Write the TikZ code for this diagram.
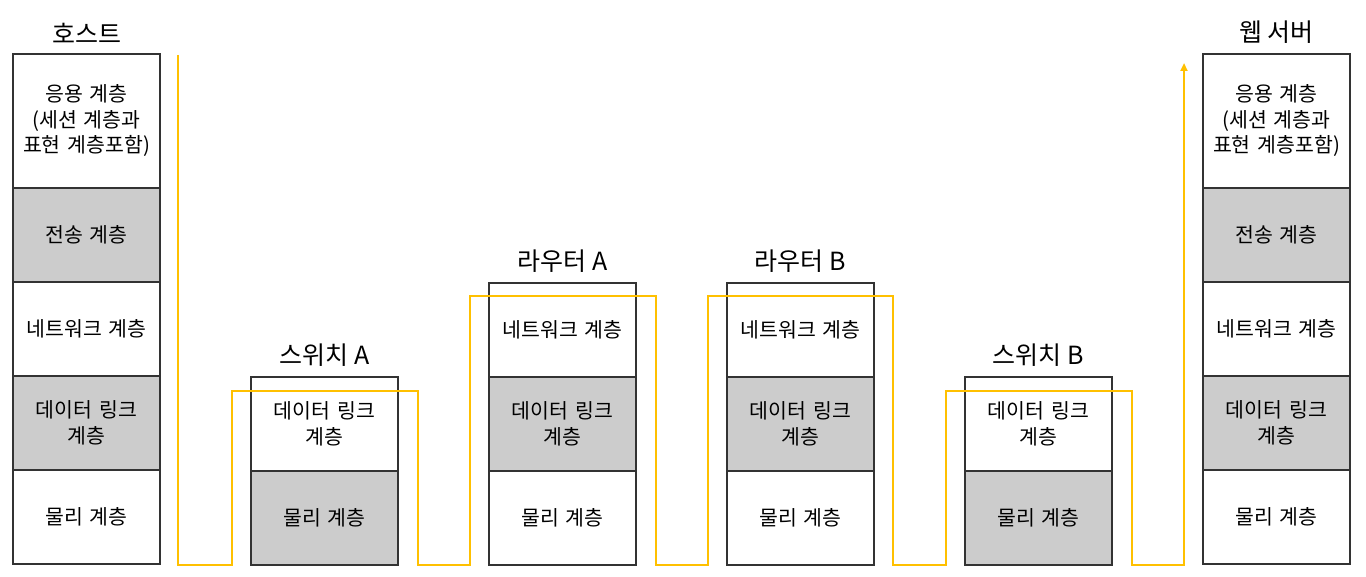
\documentclass[tikz,border=0pt]{standalone}
\usepackage{fontspec}
\setmainfont{Noto Sans CJK KR}
\usepackage{xcolor}
\usetikzlibrary{arrows.meta,positioning}

\definecolor{layergray}{HTML}{CCCCCC}
\definecolor{routeyellow}{HTML}{FFC000}

\tikzset{
  layer/.style={draw=black!80, line width=1.3pt, minimum width=147pt,
    minimum height=94pt, inner sep=0pt, outer sep=0pt, align=center, text width=145pt,
    font=\fontsize{20.5}{25.5}\selectfont},
  shaded/.style={layer, fill=layergray},
  title/.style={inner sep=0pt, font=\fontsize{25}{28}\selectfont},
  route/.style={routeyellow, line width=2pt, line join=miter},
}

\begin{document}
\begin{tikzpicture}[x=1pt,y=-1pt]
    \useasboundingbox (0,0) rectangle (1366,577);

    % host
    \node[layer, minimum height=134pt, anchor=north] (hostapp) at (86.5,54) {응용 계층\\(세션 계층과\\표현 계층포함)};
    \node[shaded, below=0pt of hostapp] (hosttp) {전송 계층};
    \node[layer, below=0pt of hosttp] (hostnet) {네트워크 계층};
    \node[shaded, below=0pt of hostnet] (hostdl) {데이터 링크\\계층};
    \node[layer, below=0pt of hostdl] (hostphy) {물리 계층};
    \node[title, above=10pt of hostapp] (hosttitle) {호스트};

    % switch A
    \node[layer, anchor=north] (swAdl) at (324.5,377) {데이터 링크\\계층};
    \node[shaded, below=0pt of swAdl] (swAphy) {물리 계층};
    \node[title, above=10pt of swAdl] (swAtitle) {스위치 A};

    % router A
    \node[layer, anchor=north] (rtAnet) at (562.5,283) {네트워크 계층};
    \node[shaded, below=0pt of rtAnet] (rtAdl) {데이터 링크\\계층};
    \node[layer, below=0pt of rtAdl] (rtAphy) {물리 계층};
    \node[title, above=10pt of rtAnet] (rtAtitle) {라우터 A};

    % router B
    \node[layer, anchor=north] (rtBnet) at (800.5,283) {네트워크 계층};
    \node[shaded, below=0pt of rtBnet] (rtBdl) {데이터 링크\\계층};
    \node[layer, below=0pt of rtBdl] (rtBphy) {물리 계층};
    \node[title, above=10pt of rtBnet] (rtBtitle) {라우터 B};

    % switch B
    \node[layer, anchor=north] (swBdl) at (1038.5,377) {데이터 링크\\계층};
    \node[shaded, below=0pt of swBdl] (swBphy) {물리 계층};
    \node[title, above=10pt of swBdl] (swBtitle) {스위치 B};

    % web server
    \node[layer, minimum height=134pt, anchor=north] (webapp) at (1276.5,54) {응용 계층\\(세션 계층과\\표현 계층포함)};
    \node[shaded, below=0pt of webapp] (webtp) {전송 계층};
    \node[layer, below=0pt of webtp] (webnet) {네트워크 계층};
    \node[shaded, below=0pt of webnet] (webdl) {데이터 링크\\계층};
    \node[layer, below=0pt of webdl] (webphy) {물리 계층};
    \node[title, above=10pt of webapp] (webtitle) {웹 서버};

    % data path
    \coordinate (src) at (178,55);
    \coordinate (dst) at (1184,63);
    \draw[route, -{Triangle[length=8pt,width=7pt]}] (src) -- (178,565) -- (232,565) -- (232,391)
        -- (418,391) -- (418,565) -- (470,565) -- (470,296) -- (656,296) -- (656,565)
        -- (708,565) -- (708,296) -- (893,296) -- (893,565) -- (946,565) -- (946,391)
        -- (1132,391) -- (1132,565) -- (1184,565) -- (dst);
\end{tikzpicture}
\end{document}
